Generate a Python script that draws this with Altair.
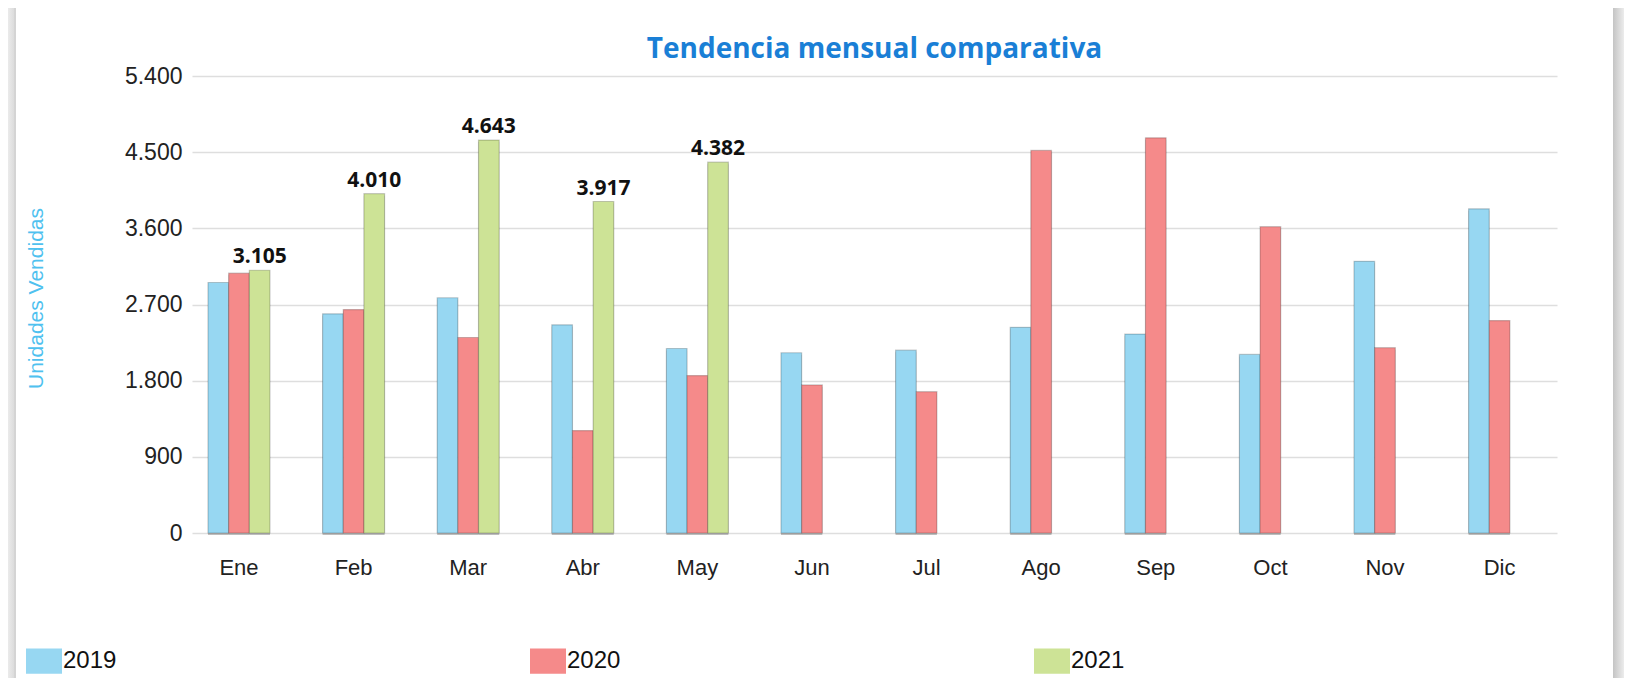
import altair as alt
import pandas as pd

meses = ["Ene", "Feb", "Mar", "Abr", "May", "Jun", "Jul", "Ago", "Sep", "Oct", "Nov", "Dic"]
anios = ["2019", "2020", "2021"]
v2019 = [2960, 2590, 2780, 2460, 2180, 2130, 2160, 2430, 2350, 2110, 3210, 3830]
v2020 = [3070, 2640, 2310, 1210, 1860, 1750, 1670, 4520, 4670, 3620, 2190, 2510]
v2021 = [3105, 4010, 4643, 3917, 4382]
y_ticks = [0, 900, 1800, 2700, 3600, 4500, 5400]
colores = ["#97D7F2", "#F58A8A", "#CDE396"]

rows = []
for serie, vals in zip(anios, [v2019, v2020, v2021]):
    for m, v in zip(meses, vals):
        rows.append({"mes": m, "anio": serie, "valor": v})
df = pd.DataFrame(rows)

x_enc = alt.X(
    "mes:N", sort=meses,
    scale=alt.Scale(domain=meses, paddingInner=0.459, paddingOuter=0.185, align=0.377),
    axis=alt.Axis(title=None, labelAngle=0, ticks=False, domain=False, grid=False,
                  labelFontSize=22, labelPadding=24, labelColor="#222222",
                  labelFont="Liberation Sans"),
)
xoff_enc = alt.XOffset("anio:N", scale=alt.Scale(domain=anios, paddingInner=0, paddingOuter=0))
y_enc = alt.Y(
    "valor:Q",
    scale=alt.Scale(domain=[0, 5400], nice=False, zero=True),
    axis=alt.Axis(values=y_ticks, title="Unidades Vendidas", ticks=False, domain=False,
                  labelFontSize=23, labelFont="Liberation Sans", labelColor="#222222",
                  labelPadding=10,
                  labelExpr="replace(format(datum.value, ','), ',', '.')",
                  gridColor="#dedede", gridWidth=1.5,
                  titleFont="Liberation Sans", titleFontSize=21, titleFontWeight="normal",
                  titleColor="#4fc1ef", titleAngle=-90, titleX=-156, titleY=222,
                  titleAlign="center", titleBaseline="middle"),
)

base = alt.Chart(df)

shadow = base.mark_bar(color="#666666", opacity=0.4, xOffset=3, yOffset=2).encode(
    x=x_enc, xOffset=xoff_enc, y=y_enc
)

bars = base.mark_bar(stroke="#000000", strokeOpacity=0.2, strokeWidth=1.2).encode(
    x=x_enc, xOffset=xoff_enc, y=y_enc,
    color=alt.Color("anio:N", scale=alt.Scale(domain=anios, range=colores),
                    legend=alt.Legend(title=None, orient="none", legendX=-166, legendY=567,
                                      direction="horizontal",
                                      symbolType="M-1,-0.7H1V0.7H-1Z", symbolSize=1296,
                                      symbolStrokeWidth=0, symbolOpacity=1,
                                      labelFontSize=24, labelFont="Liberation Sans",
                                      labelColor="#111111", labelOffset=1,
                                      columnPadding=413)),
)

labels = base.transform_filter(
    alt.datum.anio == "2021"
).transform_calculate(
    etiqueta="replace(format(datum.valor, ','), ',', '.')"
).mark_text(fontSize=21, fontWeight="bold", font="Open Sans", color="#111111",
            baseline="alphabetic", dy=-7).encode(
    x=x_enc, xOffset=xoff_enc, y=y_enc, text="etiqueta:N"
)

deco = pd.DataFrame({"k": [0]})
right_shadow = alt.Chart(deco).mark_rect(
    fill=alt.Gradient(gradient="linear", x1=0, x2=1, y1=0, y2=0,
                      stops=[alt.GradientStop(color="#c4c4c4", offset=0),
                             alt.GradientStop(color="#ececec", offset=1)])
).encode(x=alt.value(1421), x2=alt.value(1432), y=alt.value(-68), y2=alt.value(602))
left_shadow = alt.Chart(deco).mark_rect(
    fill=alt.Gradient(gradient="linear", x1=0, x2=1, y1=0, y2=0,
                      stops=[alt.GradientStop(color="#ebebeb", offset=0),
                             alt.GradientStop(color="#dcdcdc", offset=1)])
).encode(x=alt.value(-184), x2=alt.value(-178), y=alt.value(-68), y2=alt.value(602))
left_border = alt.Chart(deco).mark_rule(color="#d4d4d4", strokeWidth=2).encode(
    x=alt.value(-177), y=alt.value(-68), y2=alt.value(602)
)

chart = alt.layer(left_shadow, left_border, right_shadow, shadow, bars, labels).properties(
    width=1365, height=457,
    padding={"left": 184, "top": 68, "right": 67, "bottom": 145},
    autosize=alt.AutoSizeParams(type="none"),
    background="white",
    title=alt.Title("Tendencia mensual comparativa", font="Open Sans", fontSize=28,
                    fontWeight="bold", color="#1a7fd6", anchor="middle", frame="group",
                    offset=0, dy=57),
).configure_view(stroke=None)

chart.save("out.html", embed_options={"renderer": "svg", "actions": False})
